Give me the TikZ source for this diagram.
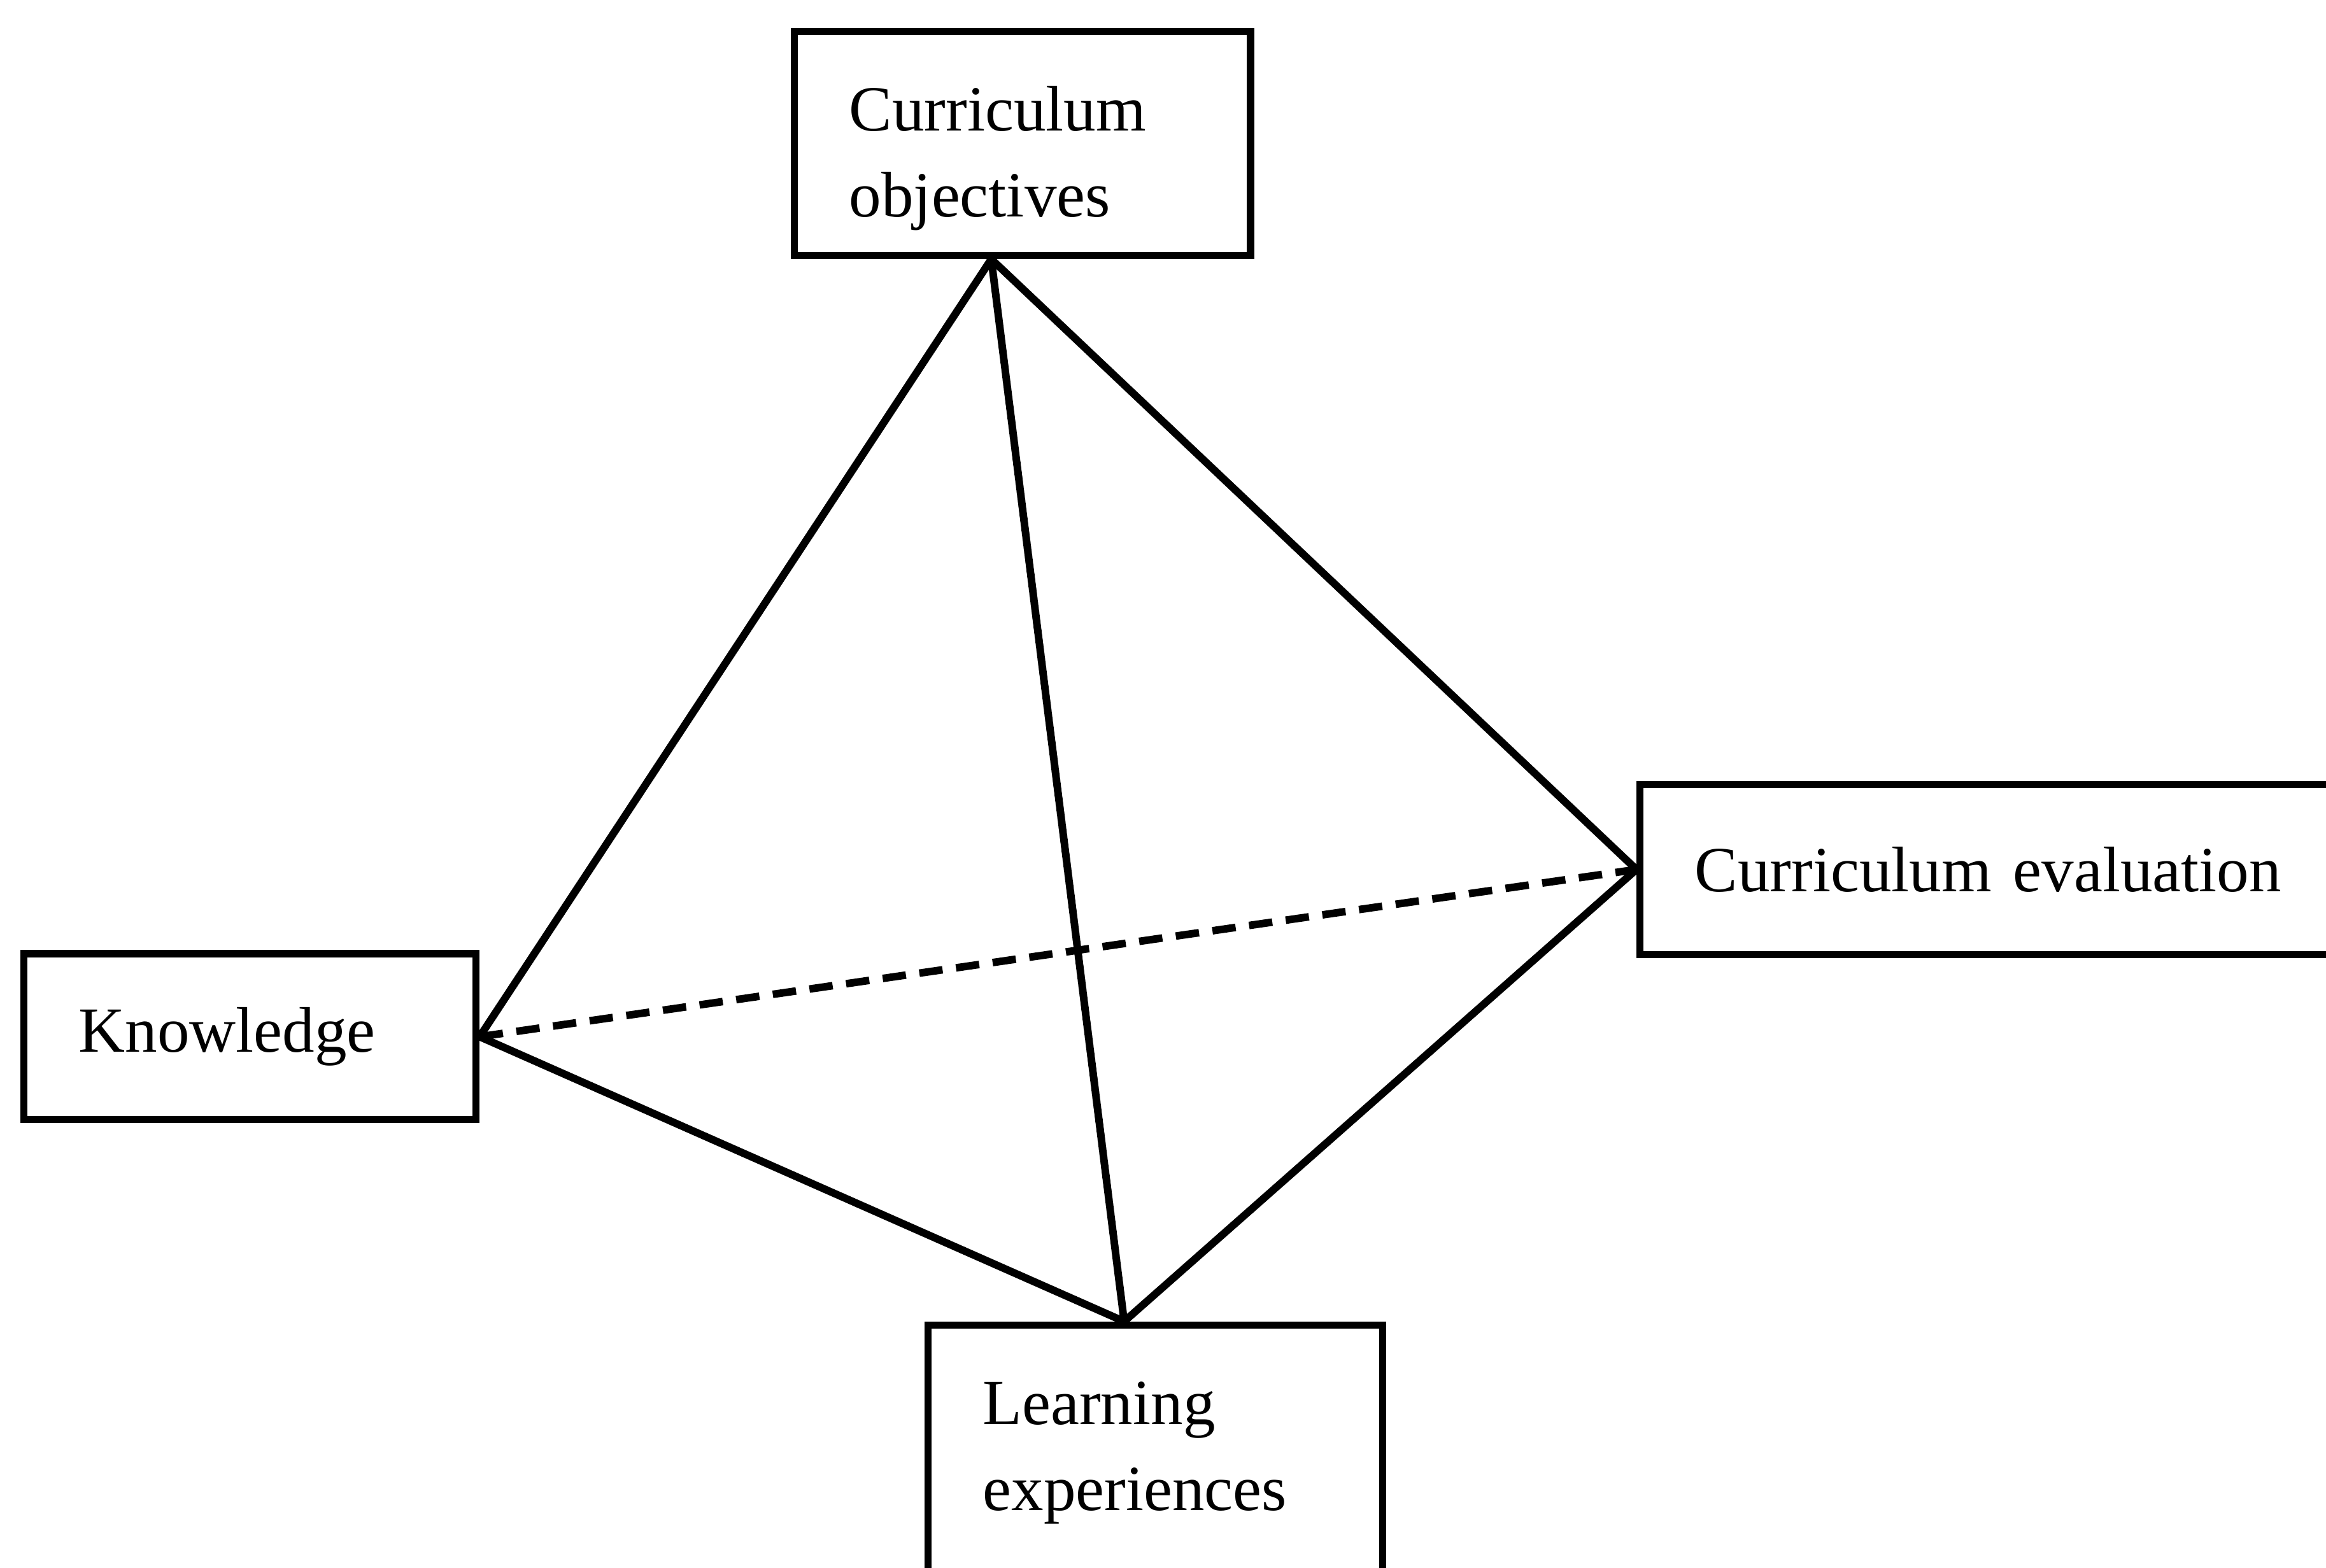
\documentclass[tikz,border=0pt]{standalone}
\usepackage{fontspec}
\setmainfont{Liberation Serif}

\begin{document}
\begin{tikzpicture}[box/.style={draw, rectangle, line width=1.35pt, inner xsep=0.37cm, inner ysep=0.2cm, align=left, font=\fontsize{12.35}{16.5}\selectfont}, edge/.style={line width=1.45pt}]
\useasboundingbox (0,0) rectangle (15.68,10.57);
\clip (0,0) rectangle (15.68,10.57);
\node (co) at (6.8925,10.38) [box, anchor=north, text width=2.335cm, text height=0.47cm, text depth=0.64cm, minimum height=1.51cm]{Curriculum\\objectives};
\node (k) at (1.685,3.58) [box, text width=2.31cm, minimum height=1.12cm]{Knowledge};
\node (ce) at (13.6275,4.7075) [box, text width=4.405cm, minimum height=1.145cm]{Curriculum evaluation};
\node (le) at (7.788,1.66) [box, anchor=north, text width=2.324cm, text height=0.47cm, text depth=1.29cm]{Learning\\experiences};
\draw[edge] ([xshift=-0.21cm]co.south) -- (k.east);
\draw[edge] ([xshift=-0.21cm]co.south) -- (ce.west);
\draw[edge] ([xshift=-0.21cm]co.south) -- ([xshift=-0.21cm]le.north);
\draw[edge] (k.east) -- ([xshift=-0.21cm]le.north) -- (ce.west);
\draw[edge, dash pattern=on 4.5pt off 2.6pt] (k.east) -- (ce.west);
%\draw[help lines] (0,0) grid (15,10);
\end{tikzpicture}
\end{document}
